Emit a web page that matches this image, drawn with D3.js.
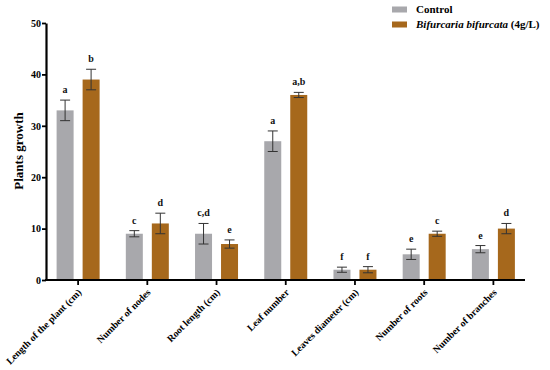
<!DOCTYPE html>
<html>
<head>
<meta charset="utf-8">
<script src="https://cdn.jsdelivr.net/npm/d3@7"></script>
<style>
  body { margin: 0; background: #fff; }
  text { font-family: "Liberation Serif", "Times New Roman", serif; font-weight: bold; }
</style>
</head>
<body>
<div id="chart"></div>
<script>
const categories = ["Length of the plant (cm)", "Number of nodes", "Root length (cm)", "Leaf number",
  "Leaves diameter (cm)", "Number of roots", "Number of branches"];
const controlValues = [33, 9, 9, 27, 2, 5, 6];
const controlErrors = [2, 0.6, 2, 2, 0.5, 1, 0.7];
const controlLetters = ["a", "c", "c,d", "a", "f", "e", "e"];
const treatValues = [39, 11, 7, 36, 2, 9, 10];
const treatErrors = [2, 2, 0.8, 0.5, 0.6, 0.5, 1];
const treatLetters = ["b", "d", "e", "a,b", "f", "c", "d"];
const yTicks = [0, 10, 20, 30, 40, 50];

const width = 550, height = 370;
const colors = {control: "#a8a8ac", treat: "#a6681c"};

const svg = d3.select("#chart").append("svg")
    .attr("width", width)
    .attr("height", height);

// scales
const x = d3.scaleBand()
    .domain(categories)
    .range([43.5, 528])
    .padding(0);

const y = d3.scaleLinear()
    .domain([0, 50])
    .range([280, 23]);

const barW = 17, offset = 13;

function drawSeries(values, errors, letters, color, dir) {
    const g = svg.append("g");
    const cx = (d, i) => x(categories[i]) + x.bandwidth() / 2 + dir * offset;

    g.selectAll("rect")
        .data(values)
        .enter()
        .append("rect")
            .attr("x", (d, i) => cx(d, i) - barW / 2)
            .attr("y", d => y(d))
            .attr("width", barW)
            .attr("height", d => y(0) - y(d))
            .attr("fill", color);

    // error bars
    const eb = g.selectAll(".err")
        .data(values)
        .enter()
        .append("g")
            .attr("class", "err")
            .attr("stroke", "#333")
            .attr("stroke-width", 1);
    eb.append("line")
        .attr("x1", (d, i) => cx(d, i)).attr("x2", (d, i) => cx(d, i))
        .attr("y1", (d, i) => y(d + errors[i])).attr("y2", (d, i) => y(d - errors[i]));
    eb.append("line")
        .attr("x1", (d, i) => cx(d, i) - 5).attr("x2", (d, i) => cx(d, i) + 5)
        .attr("y1", (d, i) => y(d + errors[i])).attr("y2", (d, i) => y(d + errors[i]));
    eb.append("line")
        .attr("x1", (d, i) => cx(d, i) - 5).attr("x2", (d, i) => cx(d, i) + 5)
        .attr("y1", (d, i) => y(d - errors[i])).attr("y2", (d, i) => y(d - errors[i]));

    // significance letters
    g.selectAll(".letter")
        .data(values)
        .enter()
        .append("text")
            .attr("class", "letter")
            .attr("x", (d, i) => cx(d, i))
            .attr("y", (d, i) => y(d + errors[i]) - 7)
            .attr("text-anchor", "middle")
            .attr("font-size", 10)
            .attr("fill", "#111")
            .text((d, i) => letters[i]);
}

drawSeries(controlValues, controlErrors, controlLetters, colors.control, -1);
drawSeries(treatValues, treatErrors, treatLetters, colors.treat, 1);

// Y axis
const yAxis = svg.append("g")
    .attr("transform", "translate(46,0)")
    .call(d3.axisLeft(y).tickValues(yTicks).tickSize(4).tickSizeOuter(0));
yAxis.select(".domain").attr("stroke-width", 2.2);
yAxis.selectAll(".tick line").attr("stroke-width", 1.8);
yAxis.selectAll(".tick text").attr("font-size", 10).attr("x", -5);

// X axis
const xAxis = svg.append("g")
    .attr("transform", "translate(0,280)")
    .call(d3.axisBottom(x).tickSize(5).tickSizeOuter(0));
xAxis.select(".domain").attr("d", "M45,0H525").attr("stroke-width", 2.2);
xAxis.selectAll(".tick line").attr("stroke-width", 1.8);
xAxis.selectAll(".tick text")
    .attr("font-size", 9.8)
    .attr("text-anchor", "end")
    .attr("dy", null)
    .attr("y", 0)
    .attr("transform", "translate(4,13) rotate(-45)");

// Y label
svg.append("text")
    .attr("transform", "translate(23,151) rotate(-90)")
    .attr("text-anchor", "middle")
    .attr("font-size", 13)
    .text("Plants growth");

// legend
const legend = [
    {label: "Control", color: colors.control, italic: false},
    {label: "Bifurcaria bifurcata", suffix: " (4g/L)", color: colors.treat, italic: true}
];
const lg = svg.append("g").attr("transform", "translate(392,0)");
legend.forEach((d, i) => {
    lg.append("rect")
        .attr("x", 0).attr("y", 6.5 + i * 15)
        .attr("width", 15).attr("height", 6)
        .attr("fill", d.color);
    const t = lg.append("text")
        .attr("x", 24).attr("y", 12.5 + i * 15)
        .attr("font-size", 11);
    t.append("tspan").attr("font-style", d.italic ? "italic" : "normal").text(d.label);
    if (d.suffix) t.append("tspan").text(d.suffix);
});
</script>
</body>
</html>
